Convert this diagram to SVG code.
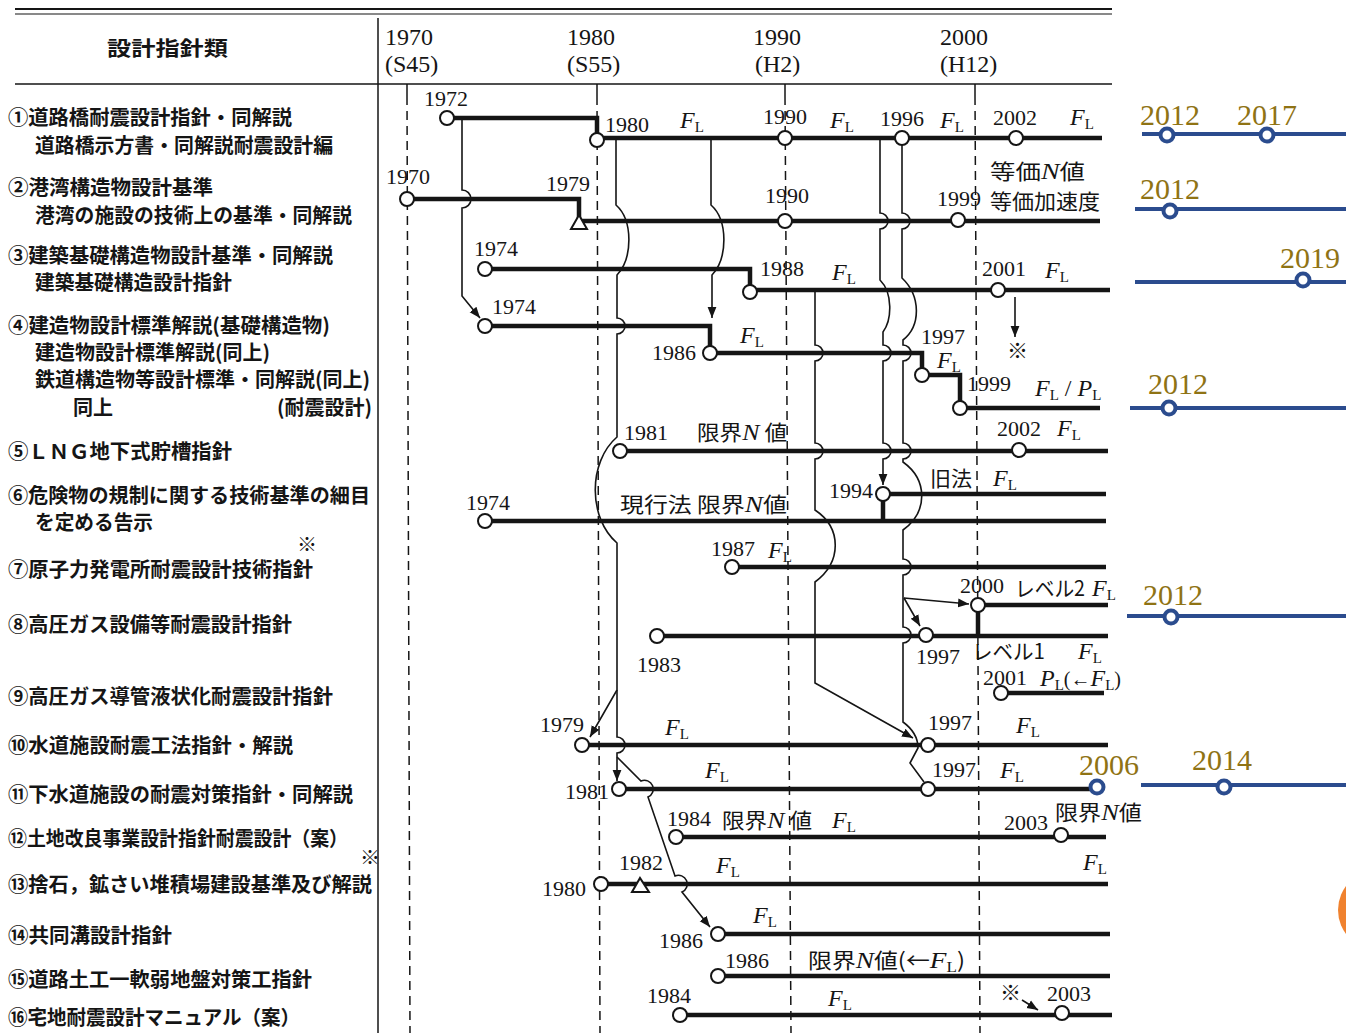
<svg xmlns="http://www.w3.org/2000/svg" width="1346" height="1033" viewBox="0 0 1346 1033">
<style>
.lab{font-family:'Noto Sans CJK JP','Noto Sans CJK SC',sans-serif;font-size:20px;font-weight:700;fill:#151515}
.hd{font-family:'Liberation Serif',serif;font-size:24px;fill:#151515}
.yr{font-family:'Liberation Serif',serif;font-size:22px;fill:#151515}
.jp{font-family:'Noto Sans CJK JP','Noto Sans CJK SC',sans-serif;font-size:21px;fill:#151515}
.fl{font-family:'Liberation Serif',serif;font-size:24px;fill:#151515}
.it{font-style:italic;font-family:'Liberation Serif',serif}
.sub{font-size:15px;font-style:normal}
.thick{stroke:#151515;stroke-width:4.5;fill:none}
.thin{stroke:#151515;stroke-width:1.6;fill:none}
.dash{stroke:#151515;stroke-width:1.5;stroke-dasharray:9 6;fill:none}
.rule{stroke:#151515;fill:none}
.node{fill:#fff;stroke:#151515;stroke-width:2}
.tri{fill:#fff;stroke:#151515;stroke-width:2}
.bl{stroke:#2B4C8E;stroke-width:4;fill:none}
.bnode{fill:#fff;stroke:#2B4C8E;stroke-width:4}
.gold{font-family:'Liberation Serif',serif;font-size:30px;fill:#8F7314}
</style>
<defs>
<marker id="ah" viewBox="0 0 10 10" refX="10" refY="5" markerWidth="11" markerHeight="11" orient="auto" markerUnits="userSpaceOnUse"><path d="M0,1 L10,5 L0,9 z" fill="#151515"/></marker>
</defs>
<rect width="1346" height="1033" fill="#fff"/>

<g id="frame">
<path class="rule" stroke-width="2" d="M15,9 H1112"/>
<path class="rule" stroke-width="1.2" d="M15,14 H1112"/>
<path class="rule" stroke-width="1.5" d="M15,84 H1112"/>
<path class="rule" stroke-width="1.5" d="M378,18 V1033"/>
<path class="rule" stroke-width="1.5" d="M407,84 V96 M597,84 V96 M785,84 V96 M975,84 V96"/>
<path class="dash" d="M407,96 L410,1033"/>
<path class="dash" d="M597,96 L600,1033"/>
<path class="dash" d="M785,96 L791,1033"/>
<path class="dash" d="M975,96 L980,1033"/>
<text class="lab" x="107" y="56" font-size="22" textLength="121" lengthAdjust="spacingAndGlyphs">設計指針類</text>
<text class="hd" x="385" y="45">1970</text><text class="hd" x="385" y="72">(S45)</text>
<text class="hd" x="567" y="45">1980</text><text class="hd" x="567" y="72">(S55)</text>
<text class="hd" x="753" y="45">1990</text><text class="hd" x="755" y="72">(H2)</text>
<text class="hd" x="940" y="45">2000</text><text class="hd" x="940" y="72">(H12)</text>
</g>

<g id="labels">
<text class="lab" x="8" y="125" textLength="284" lengthAdjust="spacingAndGlyphs">①道路橋耐震設計指針・同解説</text>
<text class="lab" x="35" y="153" textLength="298" lengthAdjust="spacingAndGlyphs">道路橋示方書・同解説耐震設計編</text>
<text class="lab" x="8" y="195" textLength="205" lengthAdjust="spacingAndGlyphs">②港湾構造物設計基準</text>
<text class="lab" x="35" y="223" textLength="317" lengthAdjust="spacingAndGlyphs">港湾の施設の技術上の基準・同解説</text>
<text class="lab" x="8" y="263" textLength="325" lengthAdjust="spacingAndGlyphs">③建築基礎構造物設計基準・同解説</text>
<text class="lab" x="35" y="290" textLength="197" lengthAdjust="spacingAndGlyphs">建築基礎構造設計指針</text>
<text class="lab" x="8" y="333" textLength="322" lengthAdjust="spacingAndGlyphs">④建造物設計標準解説(基礎構造物)</text>
<text class="lab" x="35" y="360" textLength="235" lengthAdjust="spacingAndGlyphs">建造物設計標準解説(同上)</text>
<text class="lab" x="35" y="387" textLength="335" lengthAdjust="spacingAndGlyphs">鉄道構造物等設計標準・同解説(同上)</text>
<text class="lab" x="73" y="415" textLength="40" lengthAdjust="spacingAndGlyphs">同上</text>
<text class="lab" x="277" y="415" textLength="95" lengthAdjust="spacingAndGlyphs">(耐震設計)</text>
<text class="lab" x="8" y="459" textLength="224" lengthAdjust="spacingAndGlyphs">⑤ＬＮＧ地下式貯槽指針</text>
<text class="lab" x="8" y="503" textLength="362" lengthAdjust="spacingAndGlyphs">⑥危険物の規制に関する技術基準の細目</text>
<text class="lab" x="35" y="530" textLength="118" lengthAdjust="spacingAndGlyphs">を定める告示</text>
<text class="lab" x="297" y="552" font-size="14">※</text>
<text class="lab" x="8" y="577" textLength="305" lengthAdjust="spacingAndGlyphs">⑦原子力発電所耐震設計技術指針</text>
<text class="lab" x="8" y="632" textLength="284" lengthAdjust="spacingAndGlyphs">⑧高圧ガス設備等耐震設計指針</text>
<text class="lab" x="8" y="704" textLength="325" lengthAdjust="spacingAndGlyphs">⑨高圧ガス導管液状化耐震設計指針</text>
<text class="lab" x="8" y="753" textLength="285" lengthAdjust="spacingAndGlyphs">⑩水道施設耐震工法指針・解説</text>
<text class="lab" x="8" y="802" textLength="345" lengthAdjust="spacingAndGlyphs">⑪下水道施設の耐震対策指針・同解説</text>
<text class="lab" x="8" y="846" textLength="340" lengthAdjust="spacingAndGlyphs">⑫土地改良事業設計指針耐震設計（案）</text>
<text class="lab" x="360" y="865" font-size="11">※</text>
<text class="lab" x="8" y="892" textLength="364" lengthAdjust="spacingAndGlyphs">⑬捨石，鉱さい堆積場建設基準及び解説</text>
<text class="lab" x="8" y="943" textLength="164" lengthAdjust="spacingAndGlyphs">⑭共同溝設計指針</text>
<text class="lab" x="8" y="987" textLength="304" lengthAdjust="spacingAndGlyphs">⑮道路土工一軟弱地盤対策工指針</text>
<text class="lab" x="8" y="1025" textLength="292" lengthAdjust="spacingAndGlyphs">⑯宅地耐震設計マニュアル（案）</text>
</g>

<g id="connectors">
<path class="thin" marker-end="url(#ah)" d="M462,118 V190 A9,9 0 0 1 462,208 V296 L480,318"/>
<path class="thin" marker-end="url(#ah)" d="M616,140 V205 C633,220 633,258 617,275 V318 A8,8 0 0 1 617,334 V437 C588,462 588,518 617,543 V690 L590,737"/>
<path class="thin" marker-end="url(#ah)" d="M617,690 V737 A8,8 0 0 1 617,753 V781"/>
<path class="thin" marker-end="url(#ah)" d="M617,757 L641,781 A8,8 0 0 1 648,797 L675,876 A8,8 0 0 1 682,892 L710,927"/>
<path class="thin" marker-end="url(#ah)" d="M711,140 V205 C728,220 728,258 712,275 V318"/>
<path class="thin" marker-end="url(#ah)" d="M815,290 V345 A8,8 0 0 1 815,361 V443 A8,8 0 0 1 815,459 V510 C842,528 842,562 815,582 V683 L913,738"/>
<path class="thin" marker-end="url(#ah)" d="M880,138 V213 A8,8 0 0 1 880,229 V280 C893,293 892,320 883,332 V345 A8,8 0 0 1 883,361 V443 A8,8 0 0 1 883,459 V485"/>
<path class="thin" d="M902,145 V213 A8,8 0 0 1 902,229 V278 C921,296 921,326 903,340 V345 A8,8 0 0 1 903,361 V443 A8,8 0 0 1 903,459 V462 C928,480 928,512 903,530 V559 A8,8 0 0 1 903,575 V627 A8,8 0 0 1 903,643 V722 C914,730 918,738 918,748 L910,763 L924,782"/>
<path class="thin" marker-end="url(#ah)" d="M904,598 L969,604"/>
<path class="thin" marker-end="url(#ah)" d="M904,598 L920,626"/>
<path class="thin" marker-end="url(#ah)" d="M1015,297 V337"/>
<path class="thin" marker-end="url(#ah)" d="M1022,1000 L1038,1010"/>
</g>

<g id="row1">
<path class="thick" d="M447,118 H597 V138 H1102"/>
<circle class="node" cx="447" cy="118" r="7"/><circle class="node" cx="597" cy="140" r="7"/><circle class="node" cx="785" cy="138" r="7"/><circle class="node" cx="902" cy="138" r="7"/><circle class="node" cx="1016" cy="138" r="7"/>
<text class="yr" x="424" y="106">1972</text><text class="yr" x="605" y="132">1980</text><text class="yr" x="763" y="124">1990</text><text class="yr" x="880" y="126">1996</text><text class="yr" x="993" y="125">2002</text>
<text class="fl" x="680" y="128"><tspan class="it">F</tspan><tspan class="sub" dy="4">L</tspan></text>
<text class="fl" x="830" y="128"><tspan class="it">F</tspan><tspan class="sub" dy="4">L</tspan></text>
<text class="fl" x="940" y="128"><tspan class="it">F</tspan><tspan class="sub" dy="4">L</tspan></text>
<text class="fl" x="1070" y="125"><tspan class="it">F</tspan><tspan class="sub" dy="4">L</tspan></text>
</g>

<g id="row2">
<path class="thick" d="M407,199 H579 V221 H1100"/>
<polygon class="tri" points="571,229 587,229 579,215"/>
<circle class="node" cx="407" cy="199" r="7"/><circle class="node" cx="785" cy="221" r="7"/><circle class="node" cx="958" cy="220" r="7"/>
<text class="yr" x="386" y="184">1970</text><text class="yr" x="546" y="191">1979</text><text class="yr" x="765" y="203">1990</text><text class="yr" x="937" y="206">1999</text>
<text class="jp" x="990" y="179" font-size="20" textLength="95" lengthAdjust="spacingAndGlyphs">等価<tspan class="it" font-size="23">N</tspan>値</text>
<text class="jp" x="990" y="209" font-size="20" textLength="110" lengthAdjust="spacingAndGlyphs">等価加速度</text>
</g>

<g id="row3">
<path class="thick" d="M485,269 H750 V290 H1110"/>
<circle class="node" cx="485" cy="269" r="7"/><circle class="node" cx="750" cy="292" r="7"/><circle class="node" cx="998" cy="290" r="7"/>
<text class="yr" x="474" y="256">1974</text><text class="yr" x="760" y="276">1988</text><text class="yr" x="982" y="276">2001</text>
<text class="fl" x="832" y="280"><tspan class="it">F</tspan><tspan class="sub" dy="4">L</tspan></text>
<text class="fl" x="1045" y="278"><tspan class="it">F</tspan><tspan class="sub" dy="4">L</tspan></text>
<text class="jp" x="1007" y="358" font-size="16">※</text>
</g>

<g id="row4">
<path class="thick" d="M485,326 H710 V353 H922 V375 H960 V408 H1100"/>
<circle class="node" cx="485" cy="326" r="7"/><circle class="node" cx="710" cy="353" r="7"/><circle class="node" cx="922" cy="375" r="7"/><circle class="node" cx="960" cy="408" r="7"/>
<text class="yr" x="492" y="314">1974</text><text class="yr" x="652" y="360">1986</text><text class="yr" x="921" y="344">1997</text><text class="yr" x="967" y="391">1999</text>
<text class="fl" x="740" y="343"><tspan class="it">F</tspan><tspan class="sub" dy="4">L</tspan></text>
<text class="fl" x="937" y="368"><tspan class="it">F</tspan><tspan class="sub" dy="4">L</tspan></text>
<text class="fl" x="1035" y="396"><tspan class="it">F</tspan><tspan class="sub" dy="4">L</tspan><tspan dy="-4"> / </tspan><tspan class="it">P</tspan><tspan class="sub" dy="4">L</tspan></text>
</g>

<g id="row5">
<path class="thick" d="M620,451 H1108"/>
<circle class="node" cx="620" cy="451" r="7"/><circle class="node" cx="1019" cy="450" r="7"/>
<text class="yr" x="624" y="440">1981</text><text class="yr" x="997" y="436">2002</text>
<text class="jp" x="697" y="440" textLength="90" lengthAdjust="spacingAndGlyphs">限界<tspan class="it" font-size="24">N</tspan> 値</text>
<text class="fl" x="1057" y="436"><tspan class="it">F</tspan><tspan class="sub" dy="4">L</tspan></text>
</g>

<g id="row6">
<path class="thick" d="M883,494 H1106 M883,494 V521 M485,521 H1106"/>
<circle class="node" cx="883" cy="494" r="7"/><circle class="node" cx="485" cy="521" r="7"/>
<text class="yr" x="829" y="498">1994</text><text class="yr" x="466" y="510">1974</text>
<text class="jp" x="930" y="486" textLength="42" lengthAdjust="spacingAndGlyphs">旧法</text>
<text class="fl" x="993" y="486"><tspan class="it">F</tspan><tspan class="sub" dy="4">L</tspan></text>
<text class="jp" x="620" y="512" textLength="167" lengthAdjust="spacingAndGlyphs">現行法  限界<tspan class="it" font-size="24">N</tspan>値</text>
</g>

<g id="row7">
<path class="thick" d="M732,567 H1106"/>
<circle class="node" cx="732" cy="567" r="7"/>
<text class="yr" x="711" y="556">1987</text>
<text class="fl" x="768" y="558"><tspan class="it">F</tspan><tspan class="sub" dy="4">L</tspan></text>
</g>

<g id="row8">
<path class="thick" d="M978,605 H1108 M978,605 V636 M657,636 H1108"/>
<circle class="node" cx="978" cy="605" r="7"/><circle class="node" cx="657" cy="636" r="7"/><circle class="node" cx="926" cy="635" r="7"/>
<text class="yr" x="960" y="593">2000</text><text class="yr" x="916" y="664">1997</text><text class="yr" x="637" y="672">1983</text>
<text class="jp" x="1015" y="596" textLength="70" lengthAdjust="spacingAndGlyphs">レベル2</text>
<text class="fl" x="1092" y="596"><tspan class="it">F</tspan><tspan class="sub" dy="4">L</tspan></text>
<text class="jp" x="972" y="659" textLength="73" lengthAdjust="spacingAndGlyphs">レベル1</text>
<text class="fl" x="1078" y="659"><tspan class="it">F</tspan><tspan class="sub" dy="4">L</tspan></text>
</g>

<g id="row9">
<path class="thick" d="M1001,693 H1104"/>
<circle class="node" cx="1001" cy="693" r="7"/>
<text class="yr" x="983" y="685">2001</text>
<text class="fl" x="1040" y="686"><tspan class="it">P</tspan><tspan class="sub" dy="4">L</tspan><tspan dy="-4" font-size="20">(←</tspan><tspan class="it">F</tspan><tspan class="sub" dy="4">L</tspan><tspan dy="-4" font-size="20">)</tspan></text>
</g>

<g id="row10">
<path class="thick" d="M582,745 H1108"/>
<circle class="node" cx="582" cy="745" r="7"/><circle class="node" cx="928" cy="745" r="7"/>
<text class="yr" x="540" y="732">1979</text><text class="yr" x="928" y="730">1997</text>
<text class="fl" x="665" y="735"><tspan class="it">F</tspan><tspan class="sub" dy="4">L</tspan></text>
<text class="fl" x="1016" y="733"><tspan class="it">F</tspan><tspan class="sub" dy="4">L</tspan></text>
</g>

<g id="row11">
<path class="thick" d="M619,789 H1097"/>
<circle class="node" cx="619" cy="789" r="7"/><circle class="node" cx="928" cy="789" r="7"/>
<text class="yr" x="565" y="799">1981</text><text class="yr" x="932" y="777">1997</text>
<text class="fl" x="705" y="778"><tspan class="it">F</tspan><tspan class="sub" dy="4">L</tspan></text>
<text class="fl" x="1000" y="778"><tspan class="it">F</tspan><tspan class="sub" dy="4">L</tspan></text>
</g>

<g id="row12">
<path class="thick" d="M676,837 H1106"/>
<circle class="node" cx="676" cy="837" r="7"/><circle class="node" cx="1061" cy="835" r="7"/>
<text class="yr" x="667" y="826">1984</text><text class="yr" x="1004" y="830">2003</text>
<text class="jp" x="722" y="828" textLength="90" lengthAdjust="spacingAndGlyphs">限界<tspan class="it" font-size="24">N</tspan> 値</text>
<text class="fl" x="832" y="828"><tspan class="it">F</tspan><tspan class="sub" dy="4">L</tspan></text>
<text class="jp" x="1055" y="820" textLength="87" lengthAdjust="spacingAndGlyphs">限界<tspan class="it" font-size="24">N</tspan>値</text>
</g>

<g id="row13">
<path class="thick" d="M601,884 H1108"/>
<polygon class="tri" points="632,892 649,892 640,878"/>
<circle class="node" cx="601" cy="884" r="7"/>
<text class="yr" x="542" y="896">1980</text><text class="yr" x="619" y="870">1982</text>
<text class="fl" x="716" y="873"><tspan class="it">F</tspan><tspan class="sub" dy="4">L</tspan></text>
<text class="fl" x="1083" y="870"><tspan class="it">F</tspan><tspan class="sub" dy="4">L</tspan></text>
</g>

<g id="row14">
<path class="thick" d="M718,934 H1110"/>
<circle class="node" cx="718" cy="934" r="7"/>
<text class="yr" x="659" y="948">1986</text>
<text class="fl" x="753" y="923"><tspan class="it">F</tspan><tspan class="sub" dy="4">L</tspan></text>
</g>

<g id="row15">
<path class="thick" d="M718,976 H1110"/>
<circle class="node" cx="718" cy="976" r="7"/>
<text class="yr" x="725" y="968">1986</text>
<text class="jp" x="808" y="968" textLength="157" lengthAdjust="spacingAndGlyphs">限界<tspan class="it" font-size="24">N</tspan>値(←<tspan class="it" font-size="24">F</tspan><tspan font-family="'Liberation Serif',serif" font-size="15" dy="4">L</tspan><tspan dy="-4">)</tspan></text>
</g>

<g id="row16">
<path class="thick" d="M680,1015 H1112"/>
<circle class="node" cx="680" cy="1015" r="7"/><circle class="node" cx="1062" cy="1013" r="7"/>
<text class="yr" x="647" y="1003">1984</text><text class="yr" x="1047" y="1001">2003</text>
<text class="fl" x="828" y="1006"><tspan class="it">F</tspan><tspan class="sub" dy="4">L</tspan></text>
<text class="jp" x="1000" y="1000" font-size="16">※</text>
</g>

<g id="updates">
<path class="bl" d="M1142,134 H1346"/>
<circle class="bnode" cx="1167" cy="135" r="6.5"/><circle class="bnode" cx="1267" cy="135" r="6.5"/>
<text class="gold" x="1140" y="125">2012</text><text class="gold" x="1237" y="125">2017</text>
<path class="bl" d="M1135,209 H1346"/>
<circle class="bnode" cx="1170" cy="211" r="6.5"/>
<text class="gold" x="1140" y="199">2012</text>
<path class="bl" d="M1135,282 H1346"/>
<circle class="bnode" cx="1303" cy="280" r="6.5"/>
<text class="gold" x="1280" y="268">2019</text>
<path class="bl" d="M1130,408 H1346"/>
<circle class="bnode" cx="1169" cy="408" r="6.5"/>
<text class="gold" x="1148" y="394">2012</text>
<path class="bl" d="M1127,616 H1346"/>
<circle class="bnode" cx="1171" cy="617" r="6.5"/>
<text class="gold" x="1143" y="605">2012</text>
<circle class="bnode" cx="1097" cy="787" r="6.5"/>
<text class="gold" x="1079" y="775">2006</text>
<path class="bl" d="M1141,785 H1346"/>
<circle class="bnode" cx="1224" cy="787" r="6.5"/>
<text class="gold" x="1192" y="770">2014</text>
<circle cx="1378" cy="910" r="40" fill="#F0822F"/>
</g>
</svg>
